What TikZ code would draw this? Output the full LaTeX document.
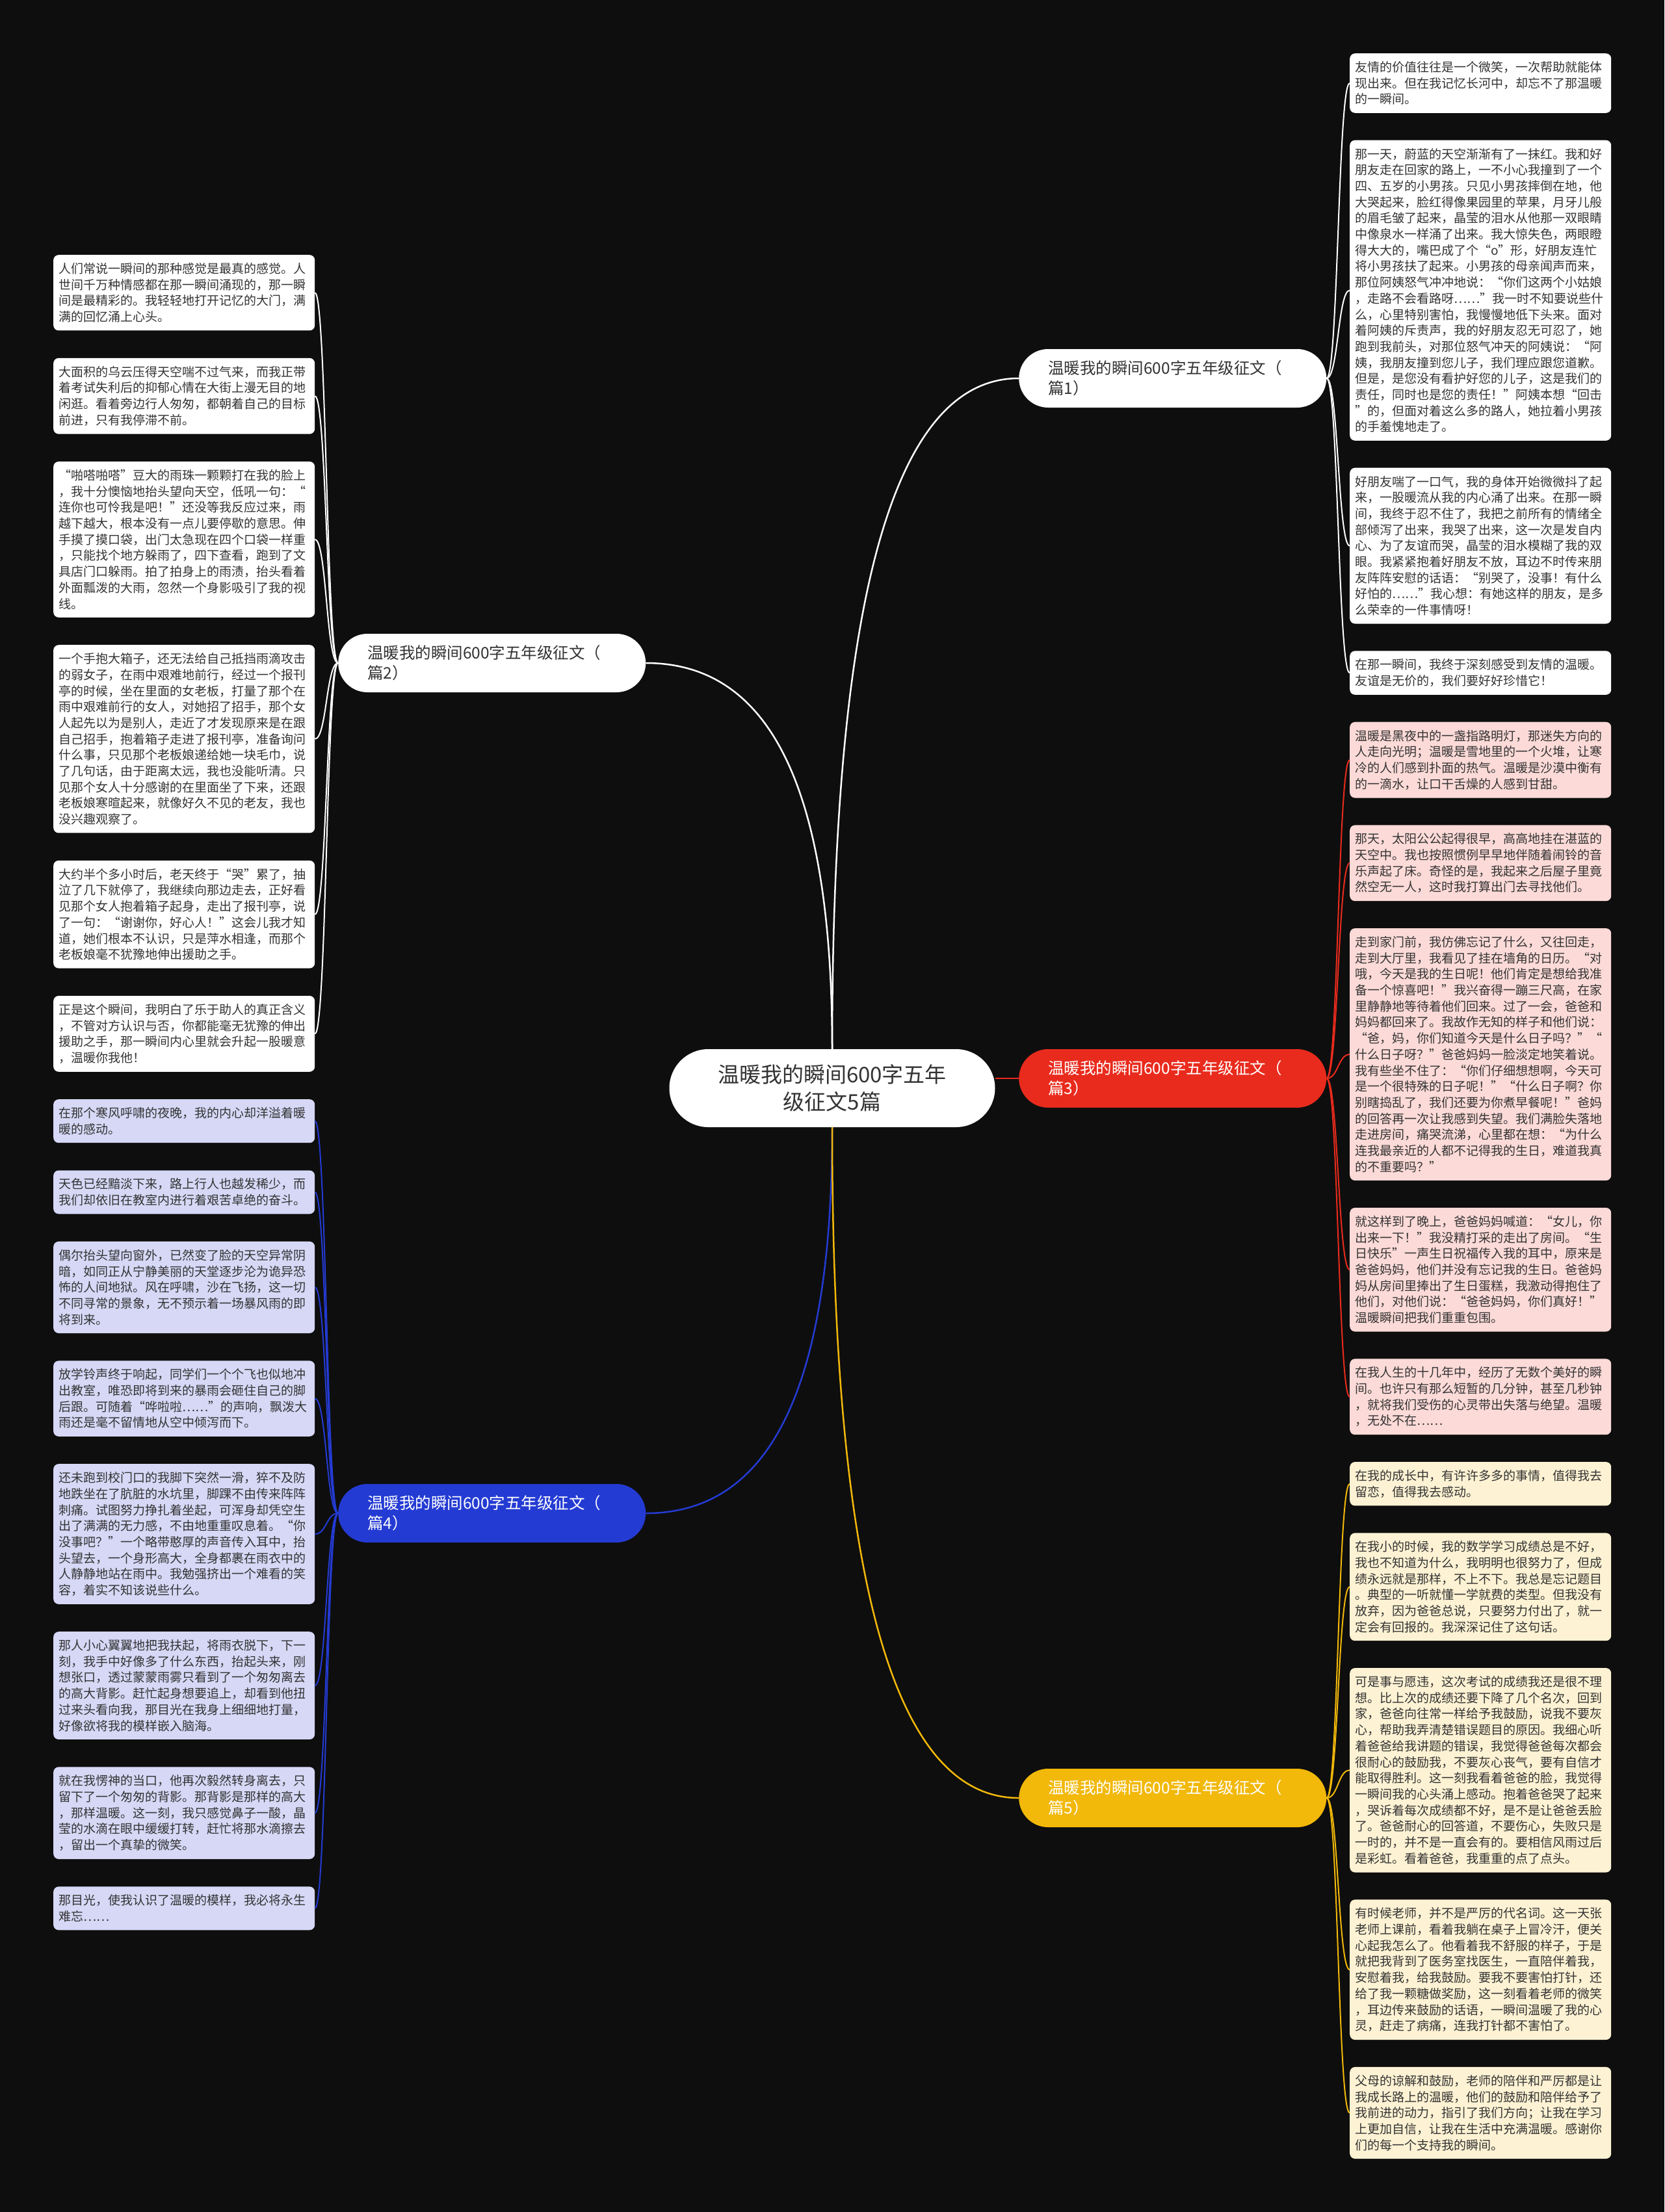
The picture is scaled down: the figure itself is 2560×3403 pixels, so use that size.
\documentclass[tikz,border=0pt]{standalone}
\usepackage{fontspec}
\newfontfamily\cjk{Noto Sans CJK SC}
\usetikzlibrary{positioning}
\definecolor{bgdark}{HTML}{0E0E0E}
\definecolor{inktext}{HTML}{333333}
\definecolor{topicred}{HTML}{E92B1D}
\definecolor{topicblue}{HTML}{243BD3}
\definecolor{topicyellow}{HTML}{F2B80A}
\definecolor{leafred}{HTML}{FBDAD7}
\definecolor{leafblue}{HTML}{D6D8F6}
\definecolor{leafyellow}{HTML}{FDF2D3}
\newcommand\leaffont{\cjk\fontsize{19}{24.7}\selectfont}
\newcommand\branchfont{\cjk\fontsize{24.5}{31}\selectfont}
\newcommand\rootfont{\cjk\fontsize{33}{42}\selectfont}
\tikzset{
  leaf/.style={rounded corners=8pt, text width=386pt, align=left, inner xsep=8pt, inner ysep=12.3pt, font=\leaffont, text=inktext},
  white leaf/.style={leaf, fill=white},
  red leaf/.style={leaf, fill=leafred},
  blue leaf/.style={leaf, fill=leafblue},
  yellow leaf/.style={leaf, fill=leafyellow},
  branch/.style={rounded corners=45pt, minimum height=90pt, text width=383pt, align=left, inner xsep=45pt, inner ysep=14pt, font=\branchfont},
  root/.style={rounded corners=60pt, minimum width=501pt, minimum height=120pt, align=center, fill=white, text=inktext, font=\rootfont},
  trunk/.style={line width=2.5pt},
  link/.style={line width=2pt},
}

\begin{document}
\begin{tikzpicture}[x=1pt,y=-1pt]
  % Background
  \fill[bgdark] (0,0) rectangle (2560,3403);
  \useasboundingbox (0,0) rectangle (2560,3403);

  % Centre and topics
  \node[root] (root) at (1280,1674) {温暖我的瞬间600字五年\\级征文5篇};
  \node[branch, fill=white, text=inktext, anchor=west] (p1) at (1567,582) {温暖我的瞬间600字五年级征文（\\篇1）};
  \node[branch, fill=white, text=inktext, anchor=west] (p2) at (520,1020) {温暖我的瞬间600字五年级征文（\\篇2）};
  \node[branch, fill=topicred, text=white, anchor=west] (p3) at (1567,1659) {温暖我的瞬间600字五年级征文（\\篇3）};
  \node[branch, fill=topicblue, text=white, anchor=west] (p4) at (520,2328) {温暖我的瞬间600字五年级征文（\\篇4）};
  \node[branch, fill=topicyellow, text=white, anchor=west] (p5) at (1567,2766) {温暖我的瞬间600字五年级征文（\\篇5）};

  \draw[trunk, white] (root.north) .. controls +(0,-714) and +(-187,0) .. (p1.west);
  \draw[trunk, white] (root.north) .. controls +(0,-410) and +(187,0) .. (p2.east);
  \draw[trunk, topicred] (root.east |- p3.west) -- (p3.west);
  \draw[trunk, topicblue] (root.south) .. controls +(0,410) and +(187,0) .. (p4.east);
  \draw[trunk, topicyellow] (root.south) .. controls +(0,714) and +(-187,0) .. (p5.west);

  % Right column: 篇1
  \node[white leaf, anchor=north west] (r1) at (2076,82) {友情的价值往往是一个微笑，一次帮助就能体\\现出来。但在我记忆长河中，却忘不了那温暖\\的一瞬间。};
  \node[white leaf, below=41.5pt of r1.south west, anchor=north west] (r2) {那一天，蔚蓝的天空渐渐有了一抹红。我和好\\朋友走在回家的路上，一不小心我撞到了一个\\四、五岁的小男孩。只见小男孩摔倒在地，他\\大哭起来，脸红得像果园里的苹果，月牙儿般\\的眉毛皱了起来，晶莹的泪水从他那一双眼睛\\中像泉水一样涌了出来。我大惊失色，两眼瞪\\得大大的，嘴巴成了个“o”形，好朋友连忙\\将小男孩扶了起来。小男孩的母亲闻声而来，\\那位阿姨怒气冲冲地说：“你们这两个小姑娘\\，走路不会看路呀……”我一时不知要说些什\\么，心里特别害怕，我慢慢地低下头来。面对\\着阿姨的斥责声，我的好朋友忍无可忍了，她\\跑到我前头，对那位怒气冲天的阿姨说：“阿\\姨，我朋友撞到您儿子，我们理应跟您道歉。\\但是，是您没有看护好您的儿子，这是我们的\\责任，同时也是您的责任！”阿姨本想“回击\\”的，但面对着这么多的路人，她拉着小男孩\\的手羞愧地走了。};
  \node[white leaf, below=41.5pt of r2.south west, anchor=north west] (r3) {好朋友喘了一口气，我的身体开始微微抖了起\\来，一股暖流从我的内心涌了出来。在那一瞬\\间，我终于忍不住了，我把之前所有的情绪全\\部倾泻了出来，我哭了出来，这一次是发自内\\心、为了友谊而哭，晶莹的泪水模糊了我的双\\眼。我紧紧抱着好朋友不放，耳边不时传来朋\\友阵阵安慰的话语：“别哭了，没事！有什么\\好怕的……”我心想：有她这样的朋友，是多\\么荣幸的一件事情呀！};
  \node[white leaf, below=41.5pt of r3.south west, anchor=north west] (r4) {在那一瞬间，我终于深刻感受到友情的温暖。\\友谊是无价的，我们要好好珍惜它！};

  % Right column: 篇3
  \node[red leaf, below=41.5pt of r4.south west, anchor=north west] (r5) {温暖是黑夜中的一盏指路明灯，那迷失方向的\\人走向光明；温暖是雪地里的一个火堆，让寒\\冷的人们感到扑面的热气。温暖是沙漠中衡有\\的一滴水，让口干舌燥的人感到甘甜。};
  \node[red leaf, below=41.5pt of r5.south west, anchor=north west] (r6) {那天，太阳公公起得很早，高高地挂在湛蓝的\\天空中。我也按照惯例早早地伴随着闹铃的音\\乐声起了床。奇怪的是，我起来之后屋子里竟\\然空无一人，这时我打算出门去寻找他们。};
  \node[red leaf, below=41.5pt of r6.south west, anchor=north west] (r7) {走到家门前，我仿佛忘记了什么，又往回走，\\走到大厅里，我看见了挂在墙角的日历。“对\\哦，今天是我的生日呢！他们肯定是想给我准\\备一个惊喜吧！”我兴奋得一蹦三尺高，在家\\里静静地等待着他们回来。过了一会，爸爸和\\妈妈都回来了。我故作无知的样子和他们说：\\“爸，妈，你们知道今天是什么日子吗？”“\\什么日子呀？”爸爸妈妈一脸淡定地笑着说。\\我有些坐不住了：“你们仔细想想啊，今天可\\是一个很特殊的日子呢！”“什么日子啊？你\\别瞎捣乱了，我们还要为你煮早餐呢！”爸妈\\的回答再一次让我感到失望。我们满脸失落地\\走进房间，痛哭流涕，心里都在想：“为什么\\连我最亲近的人都不记得我的生日，难道我真\\的不重要吗？”};
  \node[red leaf, below=41.5pt of r7.south west, anchor=north west] (r8) {就这样到了晚上，爸爸妈妈喊道：“女儿，你\\出来一下！”我没精打采的走出了房间。“生\\日快乐”一声生日祝福传入我的耳中，原来是\\爸爸妈妈，他们并没有忘记我的生日。爸爸妈\\妈从房间里捧出了生日蛋糕，我激动得抱住了\\他们，对他们说：“爸爸妈妈，你们真好！”\\温暖瞬间把我们重重包围。};
  \node[red leaf, below=41.5pt of r8.south west, anchor=north west] (r9) {在我人生的十几年中，经历了无数个美好的瞬\\间。也许只有那么短暂的几分钟，甚至几秒钟\\，就将我们受伤的心灵带出失落与绝望。温暖\\，无处不在……};

  % Right column: 篇5
  \node[yellow leaf, below=41.5pt of r9.south west, anchor=north west] (r10) {在我的成长中，有许许多多的事情，值得我去\\留恋，值得我去感动。};
  \node[yellow leaf, below=41.5pt of r10.south west, anchor=north west] (r11) {在我小的时候，我的数学学习成绩总是不好，\\我也不知道为什么，我明明也很努力了，但成\\绩永远就是那样，不上不下。我总是忘记题目\\。典型的一听就懂一学就费的类型。但我没有\\放弃，因为爸爸总说，只要努力付出了，就一\\定会有回报的。我深深记住了这句话。};
  \node[yellow leaf, below=41.5pt of r11.south west, anchor=north west] (r12) {可是事与愿违，这次考试的成绩我还是很不理\\想。比上次的成绩还要下降了几个名次，回到\\家，爸爸向往常一样给予我鼓励，说我不要灰\\心，帮助我弄清楚错误题目的原因。我细心听\\着爸爸给我讲题的错误，我觉得爸爸每次都会\\很耐心的鼓励我，不要灰心丧气，要有自信才\\能取得胜利。这一刻我看着爸爸的脸，我觉得\\一瞬间我的心头涌上感动。抱着爸爸哭了起来\\，哭诉着每次成绩都不好，是不是让爸爸丢脸\\了。爸爸耐心的回答道，不要伤心，失败只是\\一时的，并不是一直会有的。要相信风雨过后\\是彩虹。看着爸爸，我重重的点了点头。};
  \node[yellow leaf, below=41.5pt of r12.south west, anchor=north west] (r13) {有时候老师，并不是严厉的代名词。这一天张\\老师上课前，看着我躺在桌子上冒冷汗，便关\\心起我怎么了。他看着我不舒服的样子，于是\\就把我背到了医务室找医生，一直陪伴着我，\\安慰着我，给我鼓励。要我不要害怕打针，还\\给了我一颗糖做奖励，这一刻看着老师的微笑\\，耳边传来鼓励的话语，一瞬间温暖了我的心\\灵，赶走了病痛，连我打针都不害怕了。};
  \node[yellow leaf, below=41.5pt of r13.south west, anchor=north west] (r14) {父母的谅解和鼓励，老师的陪伴和严厉都是让\\我成长路上的温暖，他们的鼓励和陪伴给予了\\我前进的动力，指引了我们方向；让我在学习\\上更加自信，让我在生活中充满温暖。感谢你\\们的每一个支持我的瞬间。};

  % Left column: 篇2
  \node[white leaf, anchor=north west] (l1) at (82,392) {人们常说一瞬间的那种感觉是最真的感觉。人\\世间千万种情感都在那一瞬间涌现的，那一瞬\\间是最精彩的。我轻轻地打开记忆的大门，满\\满的回忆涌上心头。};
  \node[white leaf, below=42pt of l1.south west, anchor=north west] (l2) {大面积的乌云压得天空喘不过气来，而我正带\\着考试失利后的抑郁心情在大街上漫无目的地\\闲逛。看着旁边行人匆匆，都朝着自己的目标\\前进，只有我停滞不前。};
  \node[white leaf, below=42pt of l2.south west, anchor=north west] (l3) {“啪嗒啪嗒”豆大的雨珠一颗颗打在我的脸上\\，我十分懊恼地抬头望向天空，低吼一句：“\\连你也可怜我是吧！”还没等我反应过来，雨\\越下越大，根本没有一点儿要停歇的意思。伸\\手摸了摸口袋，出门太急现在四个口袋一样重\\，只能找个地方躲雨了，四下查看，跑到了文\\具店门口躲雨。拍了拍身上的雨渍，抬头看着\\外面瓢泼的大雨，忽然一个身影吸引了我的视\\线。};
  \node[white leaf, below=42pt of l3.south west, anchor=north west] (l4) {一个手抱大箱子，还无法给自己抵挡雨滴攻击\\的弱女子，在雨中艰难地前行，经过一个报刊\\亭的时候，坐在里面的女老板，打量了那个在\\雨中艰难前行的女人，对她招了招手，那个女\\人起先以为是别人，走近了才发现原来是在跟\\自己招手，抱着箱子走进了报刊亭，准备询问\\什么事，只见那个老板娘递给她一块毛巾，说\\了几句话，由于距离太远，我也没能听清。只\\见那个女人十分感谢的在里面坐了下来，还跟\\老板娘寒暄起来，就像好久不见的老友，我也\\没兴趣观察了。};
  \node[white leaf, below=42pt of l4.south west, anchor=north west] (l5) {大约半个多小时后，老天终于“哭”累了，抽\\泣了几下就停了，我继续向那边走去，正好看\\见那个女人抱着箱子起身，走出了报刊亭，说\\了一句：“谢谢你，好心人！”这会儿我才知\\道，她们根本不认识，只是萍水相逢，而那个\\老板娘毫不犹豫地伸出援助之手。};
  \node[white leaf, below=42pt of l5.south west, anchor=north west] (l6) {正是这个瞬间，我明白了乐于助人的真正含义\\，不管对方认识与否，你都能毫无犹豫的伸出\\援助之手，那一瞬间内心里就会升起一股暖意\\，温暖你我他！};

  % Left column: 篇4
  \node[blue leaf, below=42pt of l6.south west, anchor=north west] (l7) {在那个寒风呼啸的夜晚，我的内心却洋溢着暖\\暖的感动。};
  \node[blue leaf, below=42pt of l7.south west, anchor=north west] (l8) {天色已经黯淡下来，路上行人也越发稀少，而\\我们却依旧在教室内进行着艰苦卓绝的奋斗。};
  \node[blue leaf, below=42pt of l8.south west, anchor=north west] (l9) {偶尔抬头望向窗外，已然变了脸的天空异常阴\\暗，如同正从宁静美丽的天堂逐步沦为诡异恐\\怖的人间地狱。风在呼啸，沙在飞扬，这一切\\不同寻常的景象，无不预示着一场暴风雨的即\\将到来。};
  \node[blue leaf, below=42pt of l9.south west, anchor=north west] (l10) {放学铃声终于响起，同学们一个个飞也似地冲\\出教室，唯恐即将到来的暴雨会砸住自己的脚\\后跟。可随着“哗啦啦……”的声响，飘泼大\\雨还是毫不留情地从空中倾泻而下。};
  \node[blue leaf, below=42pt of l10.south west, anchor=north west] (l11) {还未跑到校门口的我脚下突然一滑，猝不及防\\地跌坐在了肮脏的水坑里，脚踝不由传来阵阵\\刺痛。试图努力挣扎着坐起，可浑身却凭空生\\出了满满的无力感，不由地重重叹息着。“你\\没事吧？”一个略带憨厚的声音传入耳中，抬\\头望去，一个身形高大，全身都裹在雨衣中的\\人静静地站在雨中。我勉强挤出一个难看的笑\\容，着实不知该说些什么。};
  \node[blue leaf, below=42pt of l11.south west, anchor=north west] (l12) {那人小心翼翼地把我扶起，将雨衣脱下，下一\\刻，我手中好像多了什么东西，抬起头来，刚\\想张口，透过蒙蒙雨雾只看到了一个匆匆离去\\的高大背影。赶忙起身想要追上，却看到他扭\\过来头看向我，那目光在我身上细细地打量，\\好像欲将我的模样嵌入脑海。};
  \node[blue leaf, below=42pt of l12.south west, anchor=north west] (l13) {就在我愣神的当口，他再次毅然转身离去，只\\留下了一个匆匆的背影。那背影是那样的高大\\，那样温暖。这一刻，我只感觉鼻子一酸，晶\\莹的水滴在眼中缓缓打转，赶忙将那水滴擦去\\，留出一个真挚的微笑。};
  \node[blue leaf, below=42pt of l13.south west, anchor=north west] (l14) {那目光，使我认识了温暖的模样，我必将永生\\难忘……};

  % Leaf connectors
  \foreach \i in {1,...,4}
    \draw[link, white] (p1.east) .. controls +(18,0) and +(-18,0) .. (r\i.west);
  \foreach \i in {5,...,9}
    \draw[link, topicred] (p3.east) .. controls +(18,0) and +(-18,0) .. (r\i.west);
  \foreach \i in {10,...,14}
    \draw[link, topicyellow] (p5.east) .. controls +(18,0) and +(-18,0) .. (r\i.west);
  \foreach \i in {1,...,6}
    \draw[link, white] (p2.west) .. controls +(-18,0) and +(18,0) .. (l\i.east);
  \foreach \i in {7,...,14}
    \draw[link, topicblue] (p4.west) .. controls +(-18,0) and +(18,0) .. (l\i.east);
\end{tikzpicture}
\end{document}
